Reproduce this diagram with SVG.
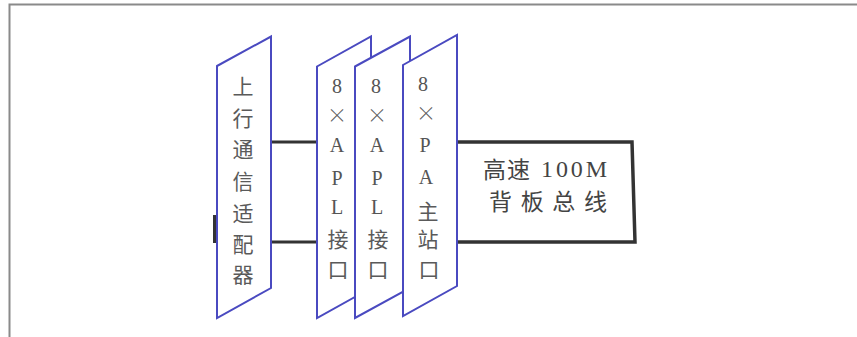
<svg xmlns="http://www.w3.org/2000/svg" width="857" height="337" viewBox="0 0 857 337">
<style>
.panel{fill:#fff;stroke:#4a4ac0;stroke-width:2;stroke-linejoin:miter}
.bus{fill:none;stroke:#333;stroke-width:3}
.t{font-family:"Liberation Serif","Noto Sans CJK SC",serif;font-size:20px;fill:#555;text-anchor:middle;dominant-baseline:central}
.c{font-family:"Noto Sans CJK SC",sans-serif;font-size:21px;fill:#5a5a5a;text-anchor:middle;dominant-baseline:central}
.x{font-family:"Noto Sans CJK SC",sans-serif;font-size:20px;fill:#5a5a5a;text-anchor:middle;dominant-baseline:central;font-weight:300}
.b{font-family:"Noto Sans CJK SC",sans-serif;font-size:23px;fill:#444;dominant-baseline:central}
.bl{font-family:"Liberation Serif",serif;font-size:24px;fill:#444;dominant-baseline:central}
</style>
<rect width="857" height="337" fill="#fff"/>
<path d="M9.5,337 V4.5 H857" fill="none" stroke="#8a8a8a" stroke-width="2"/>
<g id="connectors">
<line class="bus" x1="214.5" y1="215" x2="214.5" y2="243" stroke-width="2.5"/>
<line class="bus" x1="271" y1="142" x2="317" y2="142"/>
<line class="bus" x1="271" y1="242" x2="317" y2="242"/>
</g>
<g id="bus-box">
<path d="M457,142 H632 L635,242 H457" fill="#fff" stroke="#333" stroke-width="3.5"/>
<text class="b" x="483" y="168" textLength="47" lengthAdjust="spacing">高速</text>
<text class="bl" x="541" y="169" textLength="66" lengthAdjust="spacing">100M</text>
<text class="b" x="489" y="200" textLength="118" lengthAdjust="spacing">背板总线</text>
</g>
<g id="uplink-adapter">
<polygon class="panel" points="217,66 271,36.5 271,288 217,318"/>
<text class="c" x="243" y="85">上</text>
<text class="c" x="243" y="117">行</text>
<text class="c" x="243" y="148">通</text>
<text class="c" x="243" y="180">信</text>
<text class="c" x="243" y="212">适</text>
<text class="c" x="243" y="243">配</text>
<text class="c" x="243" y="273">器</text>
</g>
<g id="apl-1">
<polygon class="panel" points="317,66.5 371,36.5 371,288 317,318"/>
<text class="t" x="337" y="86">8</text>
<text class="x" x="337" y="114">×</text>
<text class="t" x="337" y="145">A</text>
<text class="t" x="337" y="178">P</text>
<text class="t" x="337" y="207">L</text>
<text class="c" x="338" y="238">接</text>
<text class="c" x="338" y="268">口</text>
</g>
<g id="apl-2">
<polygon class="panel" points="355,66.5 410,36.5 410,288 355,318"/>
<text class="t" x="376" y="86">8</text>
<text class="x" x="377" y="114">×</text>
<text class="t" x="377" y="145">A</text>
<text class="t" x="377" y="178">P</text>
<text class="t" x="377" y="207">L</text>
<text class="c" x="378" y="238">接</text>
<text class="c" x="378" y="268">口</text>
</g>
<g id="pa-master">
<polygon class="panel" points="403,65 457,35 457,286 403,316"/>
<text class="t" x="423" y="84">8</text>
<text class="x" x="426" y="112">×</text>
<text class="t" x="425" y="145">P</text>
<text class="t" x="426" y="177">A</text>
<text class="c" x="428" y="210">主</text>
<text class="c" x="428" y="238">站</text>
<text class="c" x="429" y="268">口</text>
</g>
</svg>
